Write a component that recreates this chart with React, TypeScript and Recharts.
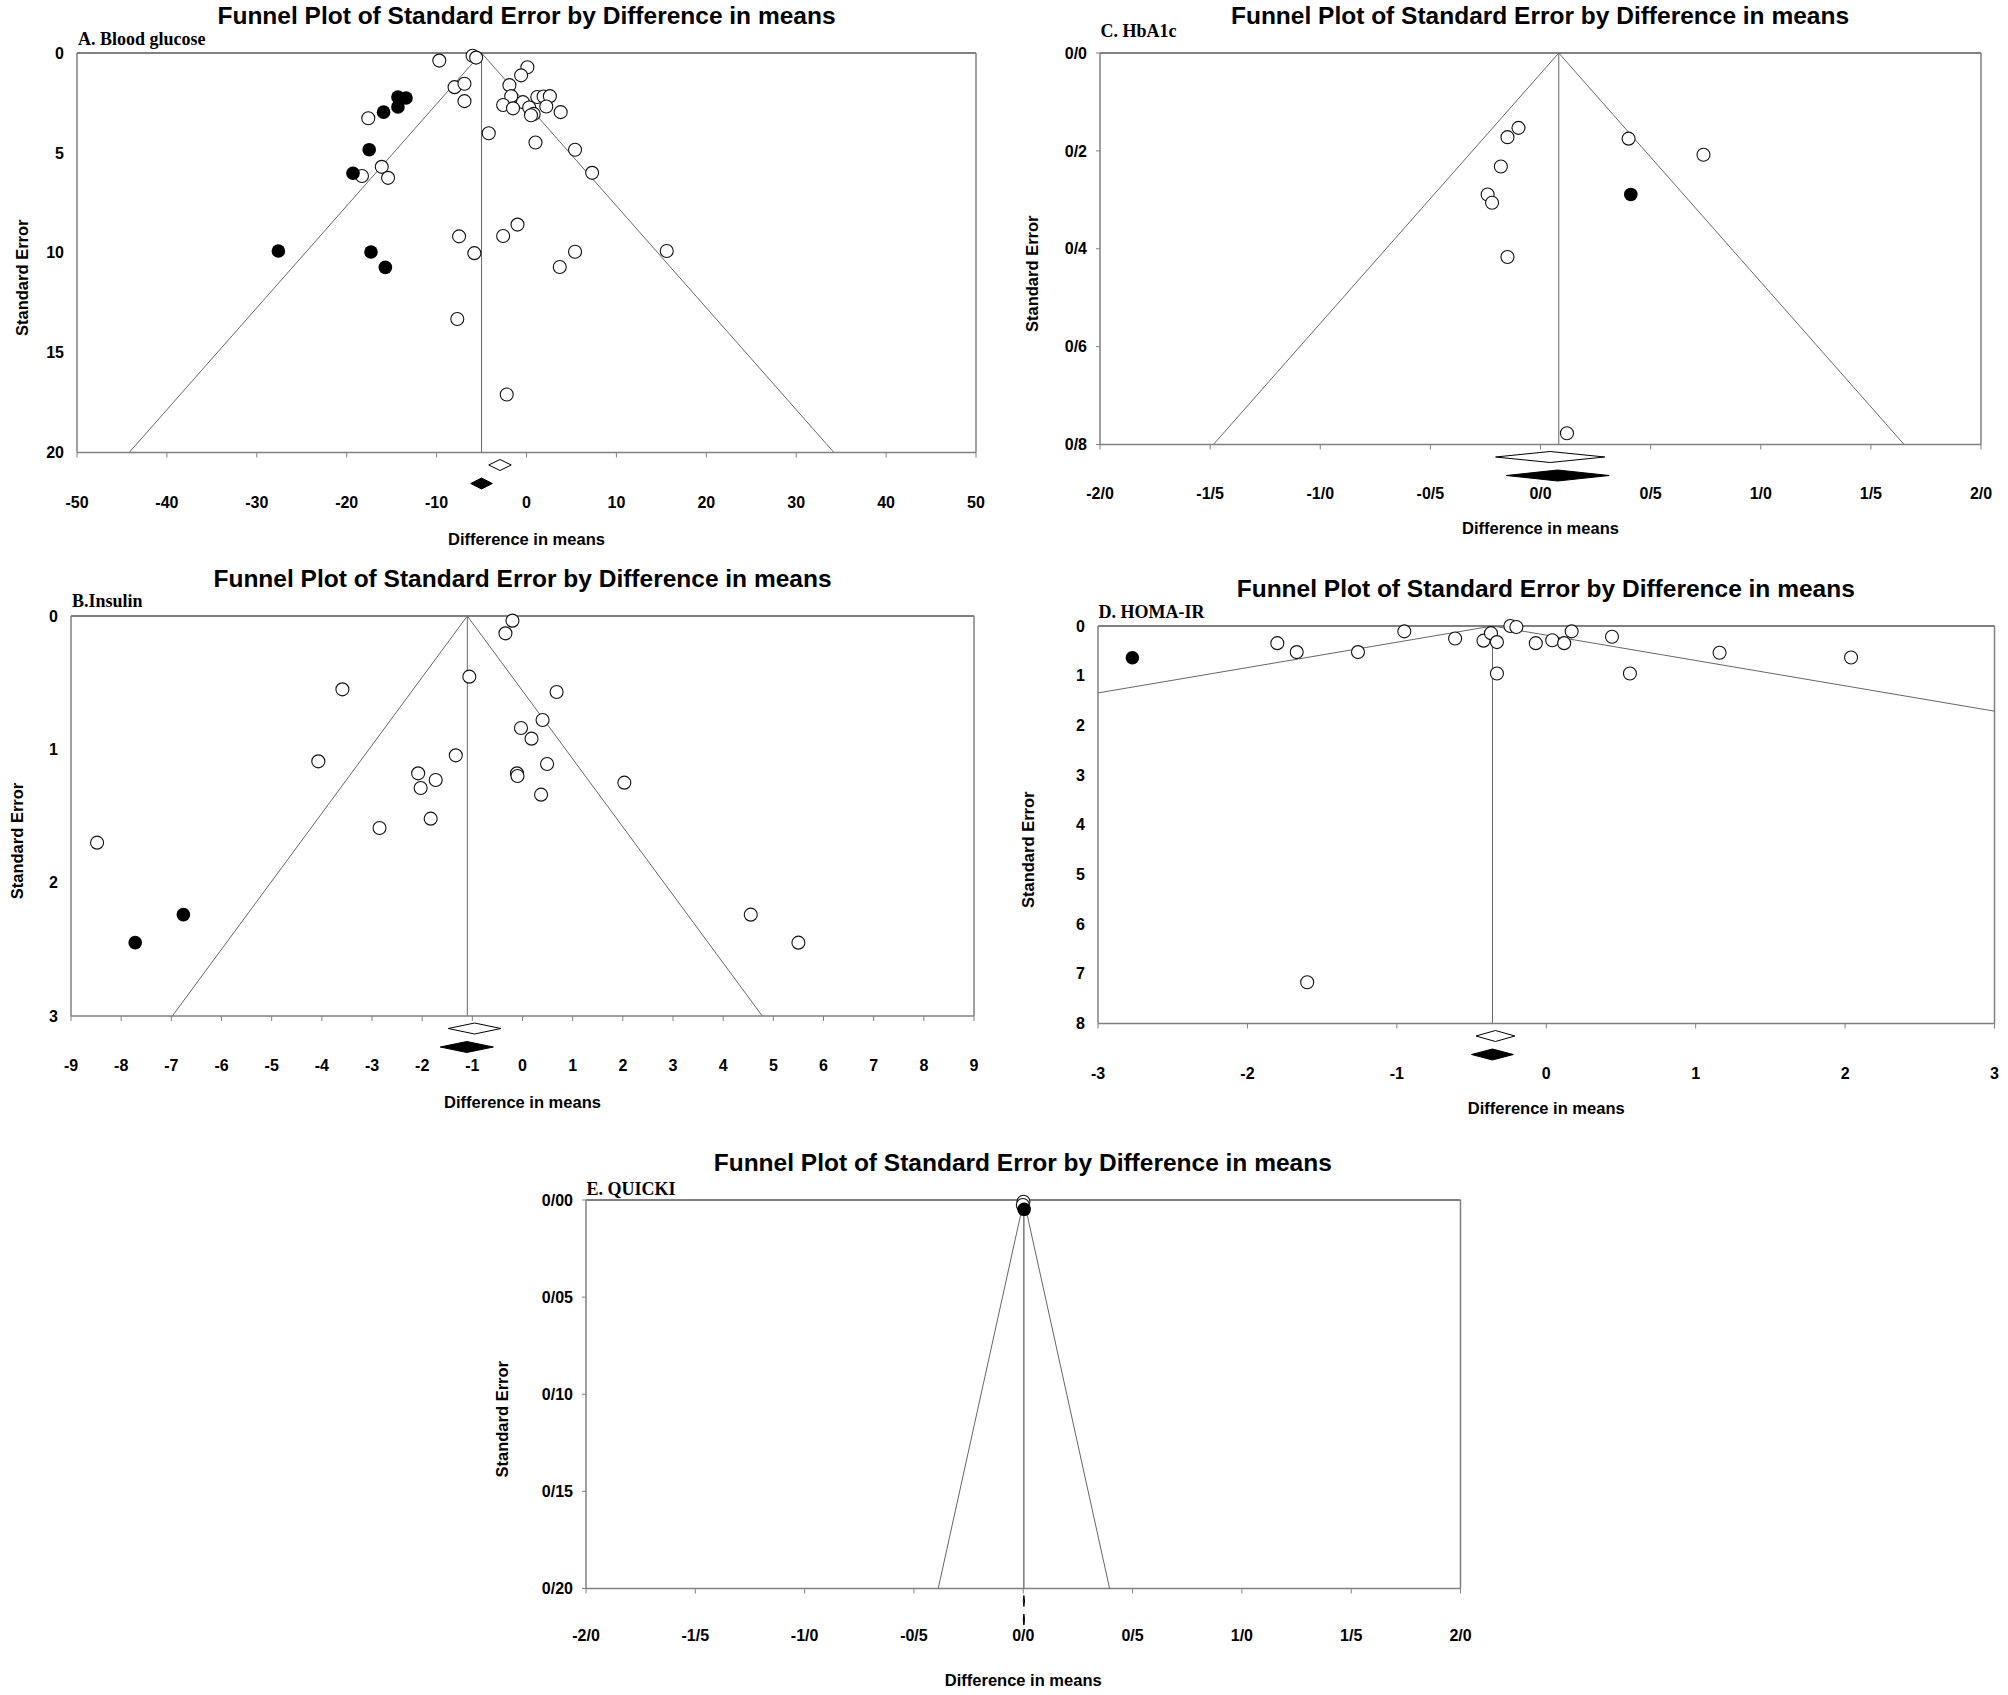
import React from "react";
import {
  ScatterChart,
  Scatter,
  XAxis,
  YAxis,
  ReferenceLine,
  ReferenceArea,
} from "recharts";

// A. Blood glucose
const glucoseObserved = [
  { d: -9.7, se: 0.38 }, { d: -6.0, se: 0.14 }, { d: -5.6, se: 0.23 }, { d: 0.1, se: 0.71 },
  { d: -0.6, se: 1.12 }, { d: -8.0, se: 1.71 }, { d: -6.9, se: 1.54 }, { d: -1.9, se: 1.61 },
  { d: -6.9, se: 2.41 }, { d: -1.7, se: 2.16 }, { d: -0.4, se: 2.46 }, { d: 1.2, se: 2.2 },
  { d: 1.9, se: 2.18 }, { d: 2.6, se: 2.16 }, { d: -2.6, se: 2.6 }, { d: -1.5, se: 2.77 },
  { d: 0.3, se: 2.73 }, { d: 0.8, se: 3.05 }, { d: 0.5, se: 3.12 }, { d: 2.2, se: 2.68 },
  { d: 3.8, se: 2.96 }, { d: -4.2, se: 4.02 }, { d: 1.0, se: 4.48 }, { d: 5.4, se: 4.84 },
  { d: 7.3, se: 6.0 }, { d: -17.6, se: 3.27 }, { d: -16.1, se: 5.7 }, { d: -18.3, se: 6.16 },
  { d: -15.4, se: 6.25 }, { d: -7.5, se: 9.18 }, { d: -2.6, se: 9.16 }, { d: -1.0, se: 8.59 },
  { d: -5.8, se: 10.02 }, { d: 5.4, se: 9.95 }, { d: 15.6, se: 9.91 }, { d: 3.7, se: 10.71 },
  { d: -7.7, se: 13.32 }, { d: -2.2, se: 17.1 },
];
const glucoseImputed = [
  { d: -14.3, se: 2.2 }, { d: -13.4, se: 2.25 }, { d: -14.3, se: 2.7 }, { d: -15.9, se: 2.96 },
  { d: -17.5, se: 4.84 }, { d: -19.3, se: 6.02 }, { d: -27.6, se: 9.91 }, { d: -17.3, se: 9.96 },
  { d: -15.7, se: 10.73 },
];
const glucoseObservedPool = { mean: -2.95, lower: -4.2, upper: -1.7 };
const glucoseAdjustedPool = { mean: -5.0, lower: -6.2, upper: -3.8 };
const glucoseXTicks = [-50, -40, -30, -20, -10, 0, 10, 20, 30, 40, 50];
const glucoseYTicks = [0, 5, 10, 15, 20];

// B. Insulin
const insulinObserved = [
  { d: -0.2, se: 0.035 }, { d: -0.34, se: 0.13 }, { d: -1.06, se: 0.455 }, { d: -3.59, se: 0.55 },
  { d: 0.68, se: 0.57 }, { d: 0.4, se: 0.78 }, { d: -0.03, se: 0.84 }, { d: 0.18, se: 0.92 },
  { d: -1.33, se: 1.045 }, { d: -4.07, se: 1.09 }, { d: 0.49, se: 1.11 }, { d: -2.08, se: 1.18 },
  { d: -0.11, se: 1.18 }, { d: -0.1, se: 1.2 }, { d: -1.73, se: 1.23 }, { d: -2.03, se: 1.29 },
  { d: 2.03, se: 1.25 }, { d: 0.37, se: 1.34 }, { d: -1.83, se: 1.52 }, { d: -2.85, se: 1.59 },
  { d: -8.48, se: 1.7 }, { d: 4.55, se: 2.24 }, { d: 5.5, se: 2.45 },
];
const insulinImputed = [{ d: -6.76, se: 2.24 }, { d: -7.72, se: 2.45 }];
const insulinObservedPool = { mean: -0.96, lower: -1.48, upper: -0.43 };
const insulinAdjustedPool = { mean: -1.1, lower: -1.64, upper: -0.58 };
const insulinXTicks = [-9, -8, -7, -6, -5, -4, -3, -2, -1, 0, 1, 2, 3, 4, 5, 6, 7, 8, 9];
const insulinYTicks = [0, 1, 2, 3];

// C. HbA1c
const hba1cObserved = [
  { d: -0.1, se: 0.153 }, { d: -0.15, se: 0.172 }, { d: 0.4, se: 0.175 }, { d: 0.74, se: 0.208 },
  { d: -0.18, se: 0.232 }, { d: -0.24, se: 0.289 }, { d: -0.22, se: 0.306 }, { d: -0.15, se: 0.417 },
  { d: 0.12, se: 0.777 },
];
const hba1cImputed = [{ d: 0.41, se: 0.289 }];
const hba1cObservedPool = { mean: 0.044, lower: -0.204, upper: 0.292 };
const hba1cAdjustedPool = { mean: 0.083, lower: -0.155, upper: 0.312 };
const hba1cXTicks = [-2, -1.5, -1, -0.5, 0, 0.5, 1, 1.5, 2];
const hba1cXTickLabels = ["-2/0", "-1/5", "-1/0", "-0/5", "0/0", "0/5", "1/0", "1/5", "2/0"];
const hba1cYTicks = [0, 0.2, 0.4, 0.6, 0.8];
const hba1cYTickLabels = ["0/0", "0/2", "0/4", "0/6", "0/8"];

// D. HOMA-IR
const homaObserved = [
  { d: -1.8, se: 0.345 }, { d: -1.67, se: 0.525 }, { d: -1.26, se: 0.525 }, { d: -0.95, se: 0.108 },
  { d: -0.61, se: 0.252 }, { d: -0.42, se: 0.295 }, { d: -0.37, se: 0.144 }, { d: -0.33, se: 0.324 },
  { d: -0.24, se: 0.0 }, { d: -0.2, se: 0.02 }, { d: -0.33, se: 0.956 }, { d: -0.07, se: 0.345 },
  { d: 0.04, se: 0.288 }, { d: 0.12, se: 0.345 }, { d: 0.17, se: 0.108 }, { d: 0.44, se: 0.216 },
  { d: 0.56, se: 0.956 }, { d: 1.16, se: 0.539 }, { d: 2.04, se: 0.633 }, { d: -1.6, se: 7.17 },
];
const homaImputed = [{ d: -2.77, se: 0.64 }];
const homaObservedPool = { mean: -0.34, lower: -0.47, upper: -0.21 };
const homaAdjustedPool = { mean: -0.36, lower: -0.5, upper: -0.22 };
const homaXTicks = [-3, -2, -1, 0, 1, 2, 3];
const homaYTicks = [0, 1, 2, 3, 4, 5, 6, 7, 8];

// E. QUICKI
const quickiObserved = [{ d: 0.001, se: 0.0009 }, { d: -0.002, se: 0.0026 }];
const quickiImputed = [{ d: 0.004, se: 0.0048 }];
const quickiObservedPool = { mean: 0.003, lower: 0.0, upper: 0.006 };
const quickiAdjustedPool = { mean: 0.003, lower: 0.0, upper: 0.006 };
const quickiXTicks = [-2, -1.5, -1, -0.5, 0, 0.5, 1, 1.5, 2];
const quickiXTickLabels = ["-2/0", "-1/5", "-1/0", "-0/5", "0/0", "0/5", "1/0", "1/5", "2/0"];
const quickiYTicks = [0, 0.05, 0.1, 0.15, 0.2];
const quickiYTickLabels = ["0/00", "0/05", "0/10", "0/15", "0/20"];

const SANS = "'Liberation Sans', Arial, sans-serif";
const SERIF = "'Liberation Serif', 'Times New Roman', serif";
const BOX = "#808080";
const FUNNEL = "#666666";

type Pool = { mean: number; lower: number; upper: number };
type Panel = {
  title: string;
  labelGap: number;
  box: { left: number; top: number; right: number; bottom: number };
  xTicks: number[];
  xTickLabels?: string[];
  yTicks: number[];
  yTickLabels?: string[];
  observed: { d: number; se: number }[];
  imputed: { d: number; se: number }[];
  observedPool: Pool;
  adjustedPool: Pool;
  yTickLine: boolean;
  yTitleGap: number;
  xTitleGap: number;
  xTickGap: number;
  meanStroke: string;
};

const panels: Panel[] = [
  {
    title: "A. Blood glucose", labelGap: 14,
    box: { left: 77, top: 52.5, right: 976, bottom: 452 },
    xTicks: glucoseXTicks, yTicks: glucoseYTicks,
    observed: glucoseObserved, imputed: glucoseImputed,
    observedPool: glucoseObservedPool, adjustedPool: glucoseAdjustedPool,
    yTickLine: false, yTitleGap: 55, xTitleGap: 86, xTickGap: 44, meanStroke: FUNNEL,
  },
  {
    title: "B.Insulin", labelGap: 15,
    box: { left: 71, top: 615.5, right: 974, bottom: 1015.5 },
    xTicks: insulinXTicks, yTicks: insulinYTicks,
    observed: insulinObserved, imputed: insulinImputed,
    observedPool: insulinObservedPool, adjustedPool: insulinAdjustedPool,
    yTickLine: false, yTitleGap: 54, xTitleGap: 86, xTickGap: 44, meanStroke: FUNNEL,
  },
  {
    title: "C. HbA1c", labelGap: 22,
    box: { left: 1099.5, top: 52.5, right: 1980.5, bottom: 444 },
    xTicks: hba1cXTicks, xTickLabels: hba1cXTickLabels,
    yTicks: hba1cYTicks, yTickLabels: hba1cYTickLabels,
    observed: hba1cObserved, imputed: hba1cImputed,
    observedPool: hba1cObservedPool, adjustedPool: hba1cAdjustedPool,
    yTickLine: true, yTitleGap: 68, xTitleGap: 83, xTickGap: 43, meanStroke: FUNNEL,
  },
  {
    title: "D. HOMA-IR", labelGap: 14,
    box: { left: 1097.5, top: 626, right: 1994, bottom: 1023.5 },
    xTicks: homaXTicks, yTicks: homaYTicks,
    observed: homaObserved, imputed: homaImputed,
    observedPool: homaObservedPool, adjustedPool: homaAdjustedPool,
    yTickLine: false, yTitleGap: 70, xTitleGap: 84, xTickGap: 44, meanStroke: FUNNEL,
  },
  {
    title: "E. QUICKI", labelGap: 11,
    box: { left: 585.5, top: 1200, right: 1460, bottom: 1588.5 },
    xTicks: quickiXTicks, xTickLabels: quickiXTickLabels,
    yTicks: quickiYTicks, yTickLabels: quickiYTickLabels,
    observed: quickiObserved, imputed: quickiImputed,
    observedPool: quickiObservedPool, adjustedPool: quickiAdjustedPool,
    yTickLine: true, yTitleGap: 84, xTitleGap: 91, xTickGap: 41, meanStroke: "#333",
  },
];

const openDot = (p: any) => (
  <circle cx={p.cx} cy={p.cy} r={6.5} fill="#fff" stroke="#111" strokeWidth={1.1} />
);
const filledDot = (p: any) => <circle cx={p.cx} cy={p.cy} r={6.8} fill="#000" />;

const diamond = (filled: boolean) => (p: any) => {
  const { x, y, width, height } = p;
  const pts = `${x},${y + height / 2} ${x + width / 2},${y} ${x + width},${y + height / 2} ${x + width / 2},${y + height}`;
  return <polygon points={pts} fill={filled ? "#000" : "#fff"} stroke="#000" strokeWidth={1} />;
};

const tickStyle = { fontSize: 16, fontWeight: 700, fill: "#000", fontFamily: SANS };
const axisTitleStyle = { fontSize: 16.5, fontWeight: 700, fill: "#000", fontFamily: SANS };

const FunnelPanel = ({ panel }: { panel: Panel }) => {
  const { box } = panel;
  const padLeft = 110;
  const padTop = 20;
  const padRight = 15;
  const padBottom = 110;
  const width = box.right - box.left + padLeft + padRight;
  const height = box.bottom - box.top + padTop + padBottom;
  const xMin = panel.xTicks[0];
  const xMax = panel.xTicks[panel.xTicks.length - 1];
  const seMax = panel.yTicks[panel.yTicks.length - 1];
  const plotH = box.bottom - box.top;
  // rows below the box where the pooled diamonds sit (pixel offsets → SE units)
  const row = (px: number) => seMax * (1 + px / plotH);
  const half = 5.5;
  const m = panel.adjustedPool.mean;

  return (
    <>
      <div
        style={{
          position: "absolute",
          left: (box.left + box.right) / 2 - 450,
          top: box.top - 37 - 15,
          width: 900,
          lineHeight: "30px",
          textAlign: "center",
          fontFamily: SANS,
          fontWeight: 700,
          fontSize: 24.5,
        }}
      >
        Funnel Plot of Standard Error by Difference in means
      </div>
      <div
        style={{
          position: "absolute",
          left: box.left + 1,
          top: box.top - panel.labelGap - 11,
          lineHeight: "22px",
          fontFamily: SERIF,
          fontWeight: 700,
          fontSize: 18,
          whiteSpace: "nowrap",
        }}
      >
        {panel.title}
      </div>
      <div style={{ position: "absolute", left: box.left - padLeft, top: box.top - padTop }}>
        <ScatterChart
          width={width}
          height={height}
          margin={{ top: padTop, right: padRight, bottom: padBottom - 60, left: padLeft - 100 }}
        >
          <XAxis
            type="number"
            dataKey="d"
            domain={[xMin, xMax]}
            ticks={panel.xTicks}
            interval={0}
            height={60}
            tickSize={5}
            tickMargin={panel.xTickGap - 5}
            axisLine={{ stroke: BOX, strokeWidth: 1.5 }}
            tickLine={{ stroke: BOX }}
            tick={tickStyle}
            tickFormatter={(v: number, i: number) =>
              panel.xTickLabels ? panel.xTickLabels[i] : String(v)
            }
            label={{
              content: (props: any) => {
                const vb = props.viewBox;
                return (
                  <text
                    x={vb.x + vb.width / 2}
                    y={vb.y + panel.xTitleGap}
                    textAnchor="middle"
                    dominantBaseline="central"
                    style={axisTitleStyle}
                  >
                    Difference in means
                  </text>
                );
              },
            }}
          />
          <YAxis
            type="number"
            dataKey="se"
            reversed
            domain={[0, seMax]}
            ticks={panel.yTicks}
            interval={0}
            width={100}
            tickSize={4}
            tickMargin={9}
            axisLine={{ stroke: BOX, strokeWidth: 1.5 }}
            tickLine={panel.yTickLine ? { stroke: BOX } : false}
            tick={tickStyle}
            tickFormatter={(v: number, i: number) =>
              panel.yTickLabels ? panel.yTickLabels[i] : String(v)
            }
            label={{
              content: (props: any) => {
                const vb = props.viewBox;
                const cx = vb.x + vb.width - panel.yTitleGap;
                const cy = vb.y + vb.height / 2 + 25;
                return (
                  <text
                    x={cx}
                    y={cy}
                    transform={`rotate(-90, ${cx}, ${cy})`}
                    textAnchor="middle"
                    dominantBaseline="central"
                    style={axisTitleStyle}
                  >
                    Standard Error
                  </text>
                );
              },
            }}
          />
          <ReferenceLine y={0} stroke={BOX} strokeWidth={1.8} ifOverflow="visible" />
          <ReferenceLine x={xMax} stroke={BOX} strokeWidth={1.5} ifOverflow="visible" />
          <ReferenceLine x={m} stroke={panel.meanStroke} strokeWidth={1} />
          <ReferenceLine
            segment={[{ x: m, y: 0 }, { x: m - 1.96 * seMax, y: seMax }]}
            stroke={FUNNEL}
            strokeWidth={1}
            ifOverflow="hidden"
          />
          <ReferenceLine
            segment={[{ x: m, y: 0 }, { x: m + 1.96 * seMax, y: seMax }]}
            stroke={FUNNEL}
            strokeWidth={1}
            ifOverflow="hidden"
          />
          <ReferenceArea
            x1={panel.observedPool.lower}
            x2={panel.observedPool.upper}
            y1={row(12.5 - half)}
            y2={row(12.5 + half)}
            ifOverflow="visible"
            shape={diamond(false)}
          />
          <ReferenceArea
            x1={panel.adjustedPool.lower}
            x2={panel.adjustedPool.upper}
            y1={row(31 - half)}
            y2={row(31 + half)}
            ifOverflow="visible"
            shape={diamond(true)}
          />
          <Scatter data={panel.observed} shape={openDot} isAnimationActive={false} />
          <Scatter data={panel.imputed} shape={filledDot} isAnimationActive={false} />
        </ScatterChart>
      </div>
    </>
  );
};

export default function App() {
  return (
    <div
      style={{
        position: "absolute",
        left: 0,
        top: 0,
        width: 2008,
        height: 1695,
        background: "#fff",
        overflow: "hidden",
      }}
    >
      {panels.map((p) => (
        <FunnelPanel key={p.title} panel={p} />
      ))}
    </div>
  );
}
